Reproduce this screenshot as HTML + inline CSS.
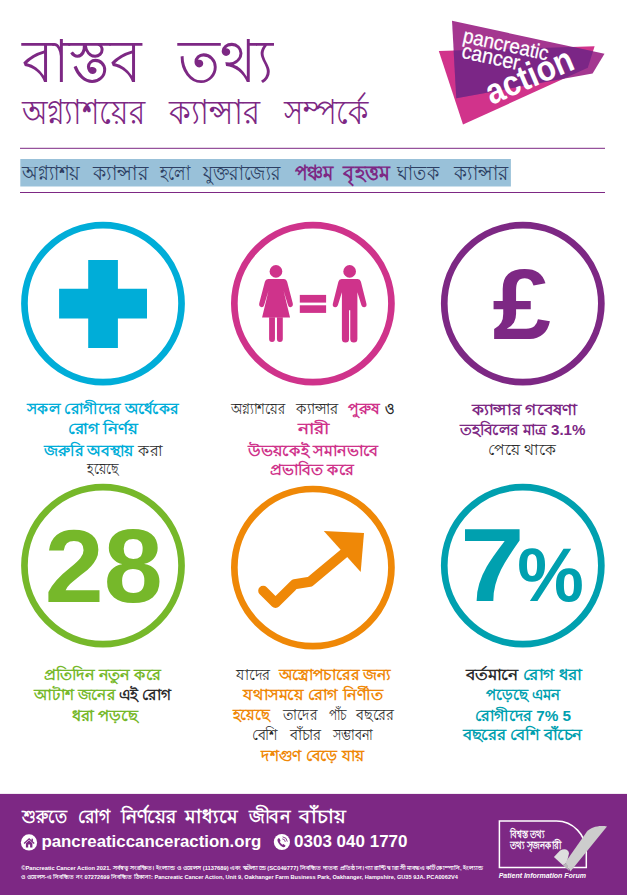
<!DOCTYPE html>
<html lang="bn">
<head>
<meta charset="utf-8">
<title>Pancreatic Cancer Action</title>
<style>
html,body{margin:0;padding:0;background:#fff;font-family:"Liberation Sans",sans-serif;}
body{width:627px;height:895px;position:relative;overflow:hidden;}
.sr{position:absolute;left:0;top:0;width:1px;height:1px;margin:-1px;padding:0;overflow:hidden;clip:rect(0 0 0 0);clip-path:inset(50%);white-space:nowrap;border:0;}
svg text{font-family:"Liberation Sans",sans-serif;}
</style>
</head>
<body>
<div class="sr">
<h1>বাস্তব তথ্য</h1>
<h2>অগ্ন্যাশয়ের ক্যান্সার সম্পর্কে</h2>
<p>অগ্ন্যাশয় ক্যান্সার হলো যুক্তরাজ্যের <b>পঞ্চম বৃহত্তম</b> ঘাতক ক্যান্সার</p>
<ul>
<li><b>সকল রোগীদের অর্ধেকের রোগ নির্ণয় জরুরি অবস্থায়</b> করা হয়েছে</li>
<li>অগ্ন্যাশয়ের ক্যান্সার <b>পুরুষ</b> ও <b>নারী উভয়কেই সমানভাবে প্রভাবিত করে</b></li>
<li><b>ক্যান্সার গবেষণা তহবিলের মাত্র 3.1%</b> পেয়ে থাকে</li>
<li><b>প্রতিদিন নতুন করে আটাশ জনের</b> এই রোগ <b>ধরা পড়ছে</b> (28)</li>
<li>যাদের <b>অস্ত্রোপচারের জন্য যথাসময়ে রোগ নির্ণীত হয়েছে</b> তাদের পাঁচ বছরের বেশি বাঁচার সম্ভাবনা <b>দশগুণ বেড়ে যায়</b></li>
<li>বর্তমানে <b>রোগ ধরা পড়েছে এমন রোগীদের 7% 5 বছরের বেশি বাঁচেন</b></li>
</ul>
<p>শুরুতে রোগ নির্ণয়ের মাধ্যমে জীবন বাঁচায়</p>
<p>pancreaticcanceraction.org &nbsp; 0303 040 1770</p>
<p>©Pancreatic Cancer Action 2021. সর্বস্বত্ব সংরক্ষিত। ইংল্যান্ড ও ওয়েলস (1137689) এবং স্কটল্যান্ডে (SC049777) নিবন্ধিত দাতব্য প্রতিষ্ঠান। গ্যারান্টি দ্বারা সীমাবদ্ধ একটি কোম্পানি, ইংল্যান্ড ও ওয়েলস-এ নিবন্ধিত নং 07272699 নিবন্ধিত ঠিকানা: Pancreatic Cancer Action, Unit 9, Oakhanger Farm Business Park, Oakhanger, Hampshire, GU35 9JA. PCA0062V4</p>
<p>বিশ্বস্ত তথ্য তথ্য সৃজনকারী — Patient Information Forum</p>
</div>
<svg width="627" height="895" viewBox="0 0 627 895" style="position:absolute;left:0;top:0;display:block">
<g aria-label="Pancreatic Cancer Action logo">
<polygon points="438.8,51 594.6,46.3 587.8,67.8 463,124.6" fill="#d1338b"/>
<polygon points="452,20.8 604.5,53.8 592.6,73.4 456.3,98.3" fill="#a43790"/>
<clipPath id="cp"><polygon points="438.8,51 594.6,46.3 587.8,67.8 463,124.6"/></clipPath>
<polygon clip-path="url(#cp)" points="452,20.8 604.5,53.8 592.6,73.4 456.3,98.3" fill="#7b2686"/>
</g>
<text transform="translate(462.08 42) rotate(12.3)" font-size="20.5" fill="#fff" stroke="#fff" stroke-width="0.25" textLength="87" lengthAdjust="spacingAndGlyphs">pancreatic</text>
<text transform="translate(460.77 57.6) rotate(12.3)" font-size="21.3" fill="#fff" stroke="#fff" stroke-width="0.25" textLength="58.8" lengthAdjust="spacingAndGlyphs">cancer</text>
<text transform="translate(491.48 105) rotate(-23.3)" font-size="35.5" font-weight="bold" fill="#fff" textLength="92.5" lengthAdjust="spacingAndGlyphs">action</text>
<text x="21.53" y="82.3" font-size="60" fill="#7d2884" textLength="119.6" lengthAdjust="spacingAndGlyphs">বাস্তব</text>
<text x="178.22" y="82.3" font-size="60" fill="#7d2884" textLength="94.4" lengthAdjust="spacingAndGlyphs">তথ্য</text>
<text x="21.88" y="123.8" font-size="34" fill="#7d2884" textLength="123.3" lengthAdjust="spacingAndGlyphs">অগ্ন্যাশয়ের</text>
<text x="168.91" y="123.8" font-size="34" fill="#7d2884" textLength="91.3" lengthAdjust="spacingAndGlyphs">ক্যান্সার</text>
<text x="283.98" y="123.8" font-size="34" fill="#7d2884" textLength="84.6" lengthAdjust="spacingAndGlyphs">সম্পর্কে</text>
<rect x="20" y="147.8" width="585" height="1" fill="#7d2884"/>
<rect x="20" y="192" width="585" height="1" fill="#7d2884"/>
<rect x="20.3" y="159" width="490.6" height="27.5" fill="#99c1d9"/>
<text x="22.23" y="180.2" font-size="20.5" fill="#2d3f63" textLength="57.4" lengthAdjust="spacingAndGlyphs">অগ্ন্যাশয়</text>
<text x="92.65" y="180.2" font-size="20.5" fill="#2d3f63" textLength="55.8" lengthAdjust="spacingAndGlyphs">ক্যান্সার</text>
<text x="160.4" y="180.2" font-size="20.5" fill="#2d3f63" textLength="29.6" lengthAdjust="spacingAndGlyphs">হলো</text>
<text x="203.32" y="180.2" font-size="20.5" fill="#2d3f63" textLength="77" lengthAdjust="spacingAndGlyphs">যুক্তরাজ্যের</text>
<text x="294.99" y="180.2" font-size="20.5" font-weight="bold" fill="#7d2884" textLength="38.7" lengthAdjust="spacingAndGlyphs">পঞ্চম</text>
<text x="343.32" y="180.2" font-size="20.5" font-weight="bold" fill="#7d2884" textLength="46.8" lengthAdjust="spacingAndGlyphs">বৃহত্তম</text>
<text x="397.33" y="180.2" font-size="20.5" fill="#2d3f63" textLength="41.7" lengthAdjust="spacingAndGlyphs">ঘাতক</text>
<text x="454.04" y="180.2" font-size="20.5" fill="#2d3f63" textLength="54.6" lengthAdjust="spacingAndGlyphs">ক্যান্সার</text>
<circle cx="103" cy="303.6" r="78.55" fill="none" stroke="#00add8" stroke-width="6.7"/>
<circle cx="312.9" cy="303.6" r="78.55" fill="none" stroke="#cf338b" stroke-width="6.7"/>
<circle cx="522.8" cy="303.6" r="78.55" fill="none" stroke="#7d2884" stroke-width="6.7"/>
<circle cx="103" cy="565.6" r="78.55" fill="none" stroke="#76b82a" stroke-width="6.7"/>
<circle cx="312.9" cy="567.55" r="78.55" fill="none" stroke="#ef8807" stroke-width="6.7"/>
<circle cx="522.8" cy="565.6" r="78.55" fill="none" stroke="#00a0af" stroke-width="6.7"/>
<path fill="#00add8" d="M88.2 260h29.7v28.8H147v29.7h-29.1v29.4H88.2v-29.4H59.1v-29.7h29.1z"/>
<g fill="#cf338b" aria-label="woman equals man">
<g transform="translate(250 258) scale(0.1006)"><circle cx="258" cy="133" r="63"/>
<path d="M180 208H338Q362 208 369 235L425 450Q431 480 408 488Q385 493 378 470L334 325L398 592H120L184 325L140 470Q133 493 110 488Q86 480 92 450L148 235Q155 208 180 208Z"/>
<path d="M190 590V806Q190 835 219 835Q248 835 248 806V590ZM268 590V806Q268 835 297 835Q326 835 326 806V590Z"/></g>
<rect x="299.8" y="294.9" width="26.3" height="7.7"/><rect x="299.8" y="305.3" width="26.3" height="7.6"/>
<g transform="translate(325 258) scale(0.1006)"><circle cx="245" cy="133" r="63"/>
<path d="M165 208H325Q350 208 357 235L412 455Q418 485 392 490Q370 493 362 470L322 340V805Q322 840 287 840Q251 840 251 805V520H239V805Q239 840 204 840Q168 840 168 805V340L128 470Q120 493 98 490Q72 485 78 455L133 235Q140 208 165 208Z"/></g>
</g>
<text x="492.4" y="339.2" font-size="101" font-weight="bold" fill="#7d2884" textLength="58.5" lengthAdjust="spacingAndGlyphs">£</text>
<text x="44.66" y="601.6" font-size="104" font-weight="bold" fill="#76b82a" textLength="118" lengthAdjust="spacingAndGlyphs">28</text>
<g aria-label="rising arrow"><polyline points="263.2,590.8 275.5,603 294.5,584.2 309.8,581.8 345,552.5" fill="none" stroke="#ef8807" stroke-width="10" stroke-linecap="round" stroke-linejoin="round"/>
<polygon points="364,533 323.8,531 360.7,572.1" fill="#ef8807"/></g>
<text x="460.03" y="600.6" font-size="104" font-weight="bold" fill="#00a0af" textLength="64.7" lengthAdjust="spacingAndGlyphs">7</text>
<text x="517.24" y="600.6" font-size="76" font-weight="bold" fill="#00a0af" textLength="66.6" lengthAdjust="spacingAndGlyphs">%</text>
<text x="27.15" y="414.4" font-size="14.5" font-weight="bold" fill="#00add8" textLength="151.2" lengthAdjust="spacingAndGlyphs">সকল রোগীদের অর্ধেকের</text>
<text x="67.85" y="433.6" font-size="14.5" font-weight="bold" fill="#00add8" textLength="70.1" lengthAdjust="spacingAndGlyphs">রোগ নির্ণয়</text>
<text x="44.06" y="455.5" font-size="14.5" textLength="118.4" lengthAdjust="spacingAndGlyphs"><tspan font-weight="bold" fill="#00add8">জরুরি অবস্থায়</tspan><tspan fill="#2b2b2b"> করা</tspan></text>
<text x="87.06" y="474.2" font-size="14.5" fill="#2b2b2b" textLength="31.5" lengthAdjust="spacingAndGlyphs">হয়েছে</text>
<text x="231.07" y="414.4" font-size="14.5" fill="#2b2b2b" textLength="54.2" lengthAdjust="spacingAndGlyphs">অগ্ন্যাশয়ের</text>
<text x="295.69" y="414.4" font-size="14.5" fill="#2b2b2b" textLength="42.7" lengthAdjust="spacingAndGlyphs">ক্যান্সার</text>
<text x="348.3" y="414.4" font-size="14.5" font-weight="bold" fill="#cf338b" textLength="31.6" lengthAdjust="spacingAndGlyphs">পুরুষ</text>
<text x="384.9" y="414.4" font-size="14.5" font-weight="bold" fill="#2b2b2c" textLength="9.4" lengthAdjust="spacingAndGlyphs">ও</text>
<text x="298.18" y="433.5" font-size="14.5" font-weight="bold" fill="#cf338b" textLength="31.1" lengthAdjust="spacingAndGlyphs">নারী</text>
<text x="247.9" y="455.5" font-size="14.5" font-weight="bold" fill="#cf338b" textLength="130" lengthAdjust="spacingAndGlyphs">উভয়কেই সমানভাবে</text>
<text x="270.47" y="474.8" font-size="14.5" font-weight="bold" fill="#cf338b" textLength="83.3" lengthAdjust="spacingAndGlyphs">প্রভাবিত করে</text>
<text x="471.79" y="414.8" font-size="14.5" font-weight="bold" fill="#7d2884" textLength="104.8" lengthAdjust="spacingAndGlyphs">ক্যান্সার গবেষণা</text>
<text x="460.16" y="434.9" font-size="14.5" font-weight="bold" fill="#7d2884" textLength="125.3" lengthAdjust="spacingAndGlyphs">তহবিলের মাত্র 3.1%</text>
<text x="488.03" y="454.5" font-size="14.5" fill="#2b2b2b" textLength="68.1" lengthAdjust="spacingAndGlyphs">পেয়ে থাকে</text>
<text x="43.86" y="680" font-size="14.5" font-weight="bold" fill="#76b82a" textLength="117" lengthAdjust="spacingAndGlyphs">প্রতিদিন নতুন করে</text>
<text x="34.05" y="699.6" font-size="14.5" font-weight="bold" textLength="136.9" lengthAdjust="spacingAndGlyphs"><tspan fill="#76b82a">আটাশ জনের</tspan><tspan fill="#2b2b2c"> এই রোগ</tspan></text>
<text x="71.68" y="721" font-size="14.5" font-weight="bold" fill="#76b82a" textLength="66.3" lengthAdjust="spacingAndGlyphs">ধরা পড়ছে</text>
<text x="236.29" y="679.8" font-size="14.5" fill="#2b2b2b" textLength="33.8" lengthAdjust="spacingAndGlyphs">যাদের</text>
<text x="278.55" y="679.8" font-size="14.5" font-weight="bold" fill="#ef8807" textLength="111.7" lengthAdjust="spacingAndGlyphs">অস্ত্রোপচারের জন্য</text>
<text x="243.09" y="699.6" font-size="14.5" font-weight="bold" fill="#ef8807" textLength="139.4" lengthAdjust="spacingAndGlyphs">যথাসময়ে রোগ নির্ণীত</text>
<text x="232.52" y="720.3" font-size="14.5" font-weight="bold" fill="#ef8807" textLength="37.2" lengthAdjust="spacingAndGlyphs">হয়েছে</text>
<text x="282.97" y="720.3" font-size="14.5" fill="#2b2b2b" textLength="33.9" lengthAdjust="spacingAndGlyphs">তাদের</text>
<text x="328.54" y="720.3" font-size="14.5" fill="#2b2b2b" textLength="17.7" lengthAdjust="spacingAndGlyphs">পাঁচ</text>
<text x="356.38" y="720.3" font-size="14.5" fill="#2b2b2b" textLength="37.3" lengthAdjust="spacingAndGlyphs">বছরের</text>
<text x="251.74" y="740.4" font-size="14.5" fill="#2b2b2b" textLength="26" lengthAdjust="spacingAndGlyphs">বেশি</text>
<text x="289.88" y="740.4" font-size="14.5" fill="#2b2b2b" textLength="31.2" lengthAdjust="spacingAndGlyphs">বাঁচার</text>
<text x="332.66" y="740.4" font-size="14.5" fill="#2b2b2b" textLength="40.1" lengthAdjust="spacingAndGlyphs">সম্ভাবনা</text>
<text x="261.45" y="761.2" font-size="14.5" font-weight="bold" fill="#ef8807" textLength="102.7" lengthAdjust="spacingAndGlyphs">দশগুণ বেড়ে যায়</text>
<text x="466.2" y="679.5" font-size="14.5" font-weight="bold" textLength="115.3" lengthAdjust="spacingAndGlyphs"><tspan fill="#2b2b2c">বর্তমানে</tspan><tspan fill="#00a0af"> রোগ ধরা</tspan></text>
<text x="485.7" y="699.6" font-size="14.5" font-weight="bold" fill="#00a0af" textLength="74" lengthAdjust="spacingAndGlyphs">পড়েছে এমন</text>
<text x="474.9" y="721.1" font-size="14.5" font-weight="bold" fill="#00a0af" textLength="96.2" lengthAdjust="spacingAndGlyphs">রোগীদের 7% 5</text>
<text x="462.78" y="740.4" font-size="14.5" font-weight="bold" fill="#00a0af" textLength="119.5" lengthAdjust="spacingAndGlyphs">বছরের বেশি বাঁচেন</text>
<rect x="0" y="793.9" width="627" height="101.1" fill="#7d2884"/>
<text x="22.08" y="822.6" font-size="18.6" font-weight="bold" fill="#fff" textLength="44.7" lengthAdjust="spacingAndGlyphs">শুরুতে</text>
<text x="77.52" y="822.6" font-size="18.6" font-weight="bold" fill="#fff" textLength="32.4" lengthAdjust="spacingAndGlyphs">রোগ</text>
<text x="121.14" y="822.6" font-size="18.6" font-weight="bold" fill="#fff" textLength="54.7" lengthAdjust="spacingAndGlyphs">নির্ণয়ের</text>
<text x="184.99" y="822.6" font-size="18.6" font-weight="bold" fill="#fff" textLength="53.2" lengthAdjust="spacingAndGlyphs">মাধ্যমে</text>
<text x="248.95" y="822.6" font-size="18.6" font-weight="bold" fill="#fff" textLength="40.9" lengthAdjust="spacingAndGlyphs">জীবন</text>
<text x="299.35" y="822.6" font-size="18.6" font-weight="bold" fill="#fff" textLength="46.4" lengthAdjust="spacingAndGlyphs">বাঁচায়</text>
<g aria-label="home"><circle cx="29" cy="842.4" r="8.1" fill="#fff"/><g fill="#7d2884"><path d="M25.9 843.3v4.200h2.300v-2.900h1.900v2.900h2.300v-4.200l-3.250-3z"/><rect x="31.5" y="838.700" width="1.400" height="2.800"/></g><polyline points="24.1,843.500 29.150,838.800 34.200,843.500" fill="none" stroke="#7d2884" stroke-width="1.300"/></g>
<text x="41.44" y="846.6" font-size="17" font-weight="bold" fill="#fff" textLength="219.9" lengthAdjust="spacingAndGlyphs">pancreaticcanceraction.org</text>
<g aria-label="phone"><circle cx="281.9" cy="842" r="8.1" fill="#fff"/><path d="M278.3 838.200c-1.300 1-1.100 3.100.700 5.500s4.100 4 5.700 3.300l.900-1.200-2.100-1.700-1 .700c-.800-.300-2.100-1.800-2.700-3l.800-.900-1-2.500z" fill="#7d2884"/><path d="M282.300 838.900a3.200 3.200 0 0 1 3 3M282.600 836.900a5.200 5.200 0 0 1 4.700 4.700" fill="none" stroke="#7d2884" stroke-width="0.900"/></g>
<text x="294.1" y="846.6" font-size="16.6" font-weight="bold" fill="#fff" textLength="113.4" lengthAdjust="spacingAndGlyphs">0303 040 1770</text>
<text x="21.31" y="870.2" font-size="5.6" font-weight="bold" fill="#fff" textLength="461.5" lengthAdjust="spacingAndGlyphs">©Pancreatic Cancer Action 2021. সর্বস্বত্ব সংরক্ষিত। ইংল্যান্ড ও ওয়েলস (1137689) এবং স্কটল্যান্ডে (SC049777) নিবন্ধিত দাতব্য প্রতিষ্ঠান। গ্যারান্টি দ্বারা সীমাবদ্ধ একটি কোম্পানি, ইংল্যান্ড</text>
<text x="21.12" y="879.3" font-size="5.6" font-weight="bold" fill="#fff" textLength="436.8" lengthAdjust="spacingAndGlyphs">ও ওয়েলস-এ নিবন্ধিত নং 07272699 নিবন্ধিত ঠিকানা: Pancreatic Cancer Action, Unit 9, Oakhanger Farm Business Park, Oakhanger, Hampshire, GU35 9JA. PCA0062V4</text>
<g aria-label="Patient Information Forum trusted information creator">
<path d="M499.4 821.1h57a29.9 30.800 0 0 1 29.900 30.800v15.600H499.4z" fill="none" stroke="#fff" stroke-width="1.5"/>
<path d="M553.9 856.900L560.100 850.500C564.500 847.900 569 849.600 569 853.500L566.800 862.400L562.900 865.200Z" fill="#dedede"/>
<path d="M562.9 865.200L566.800 862.400L569.300 871Z" fill="#b9b9b9"/>
<path d="M607 826.4C598 825.100 591 827.300 587 831.400L565.600 862.100L570.400 871.500Z" fill="#cdcdcd"/>
</g>
<text x="509.9" y="837.6" font-size="10.8" font-weight="bold" fill="#fff" textLength="34.4" lengthAdjust="spacingAndGlyphs">বিশ্বস্ত তথ্য</text>
<text x="509.92" y="848.8" font-size="10.8" font-weight="bold" fill="#fff" textLength="51.4" lengthAdjust="spacingAndGlyphs">তথ্য সৃজনকারী</text>
<text x="498.68" y="877.9" font-size="7.9" font-weight="bold" font-style="italic" fill="#fff" textLength="87.4" lengthAdjust="spacingAndGlyphs">Patient Information Forum</text>
</svg>
</body>
</html>
